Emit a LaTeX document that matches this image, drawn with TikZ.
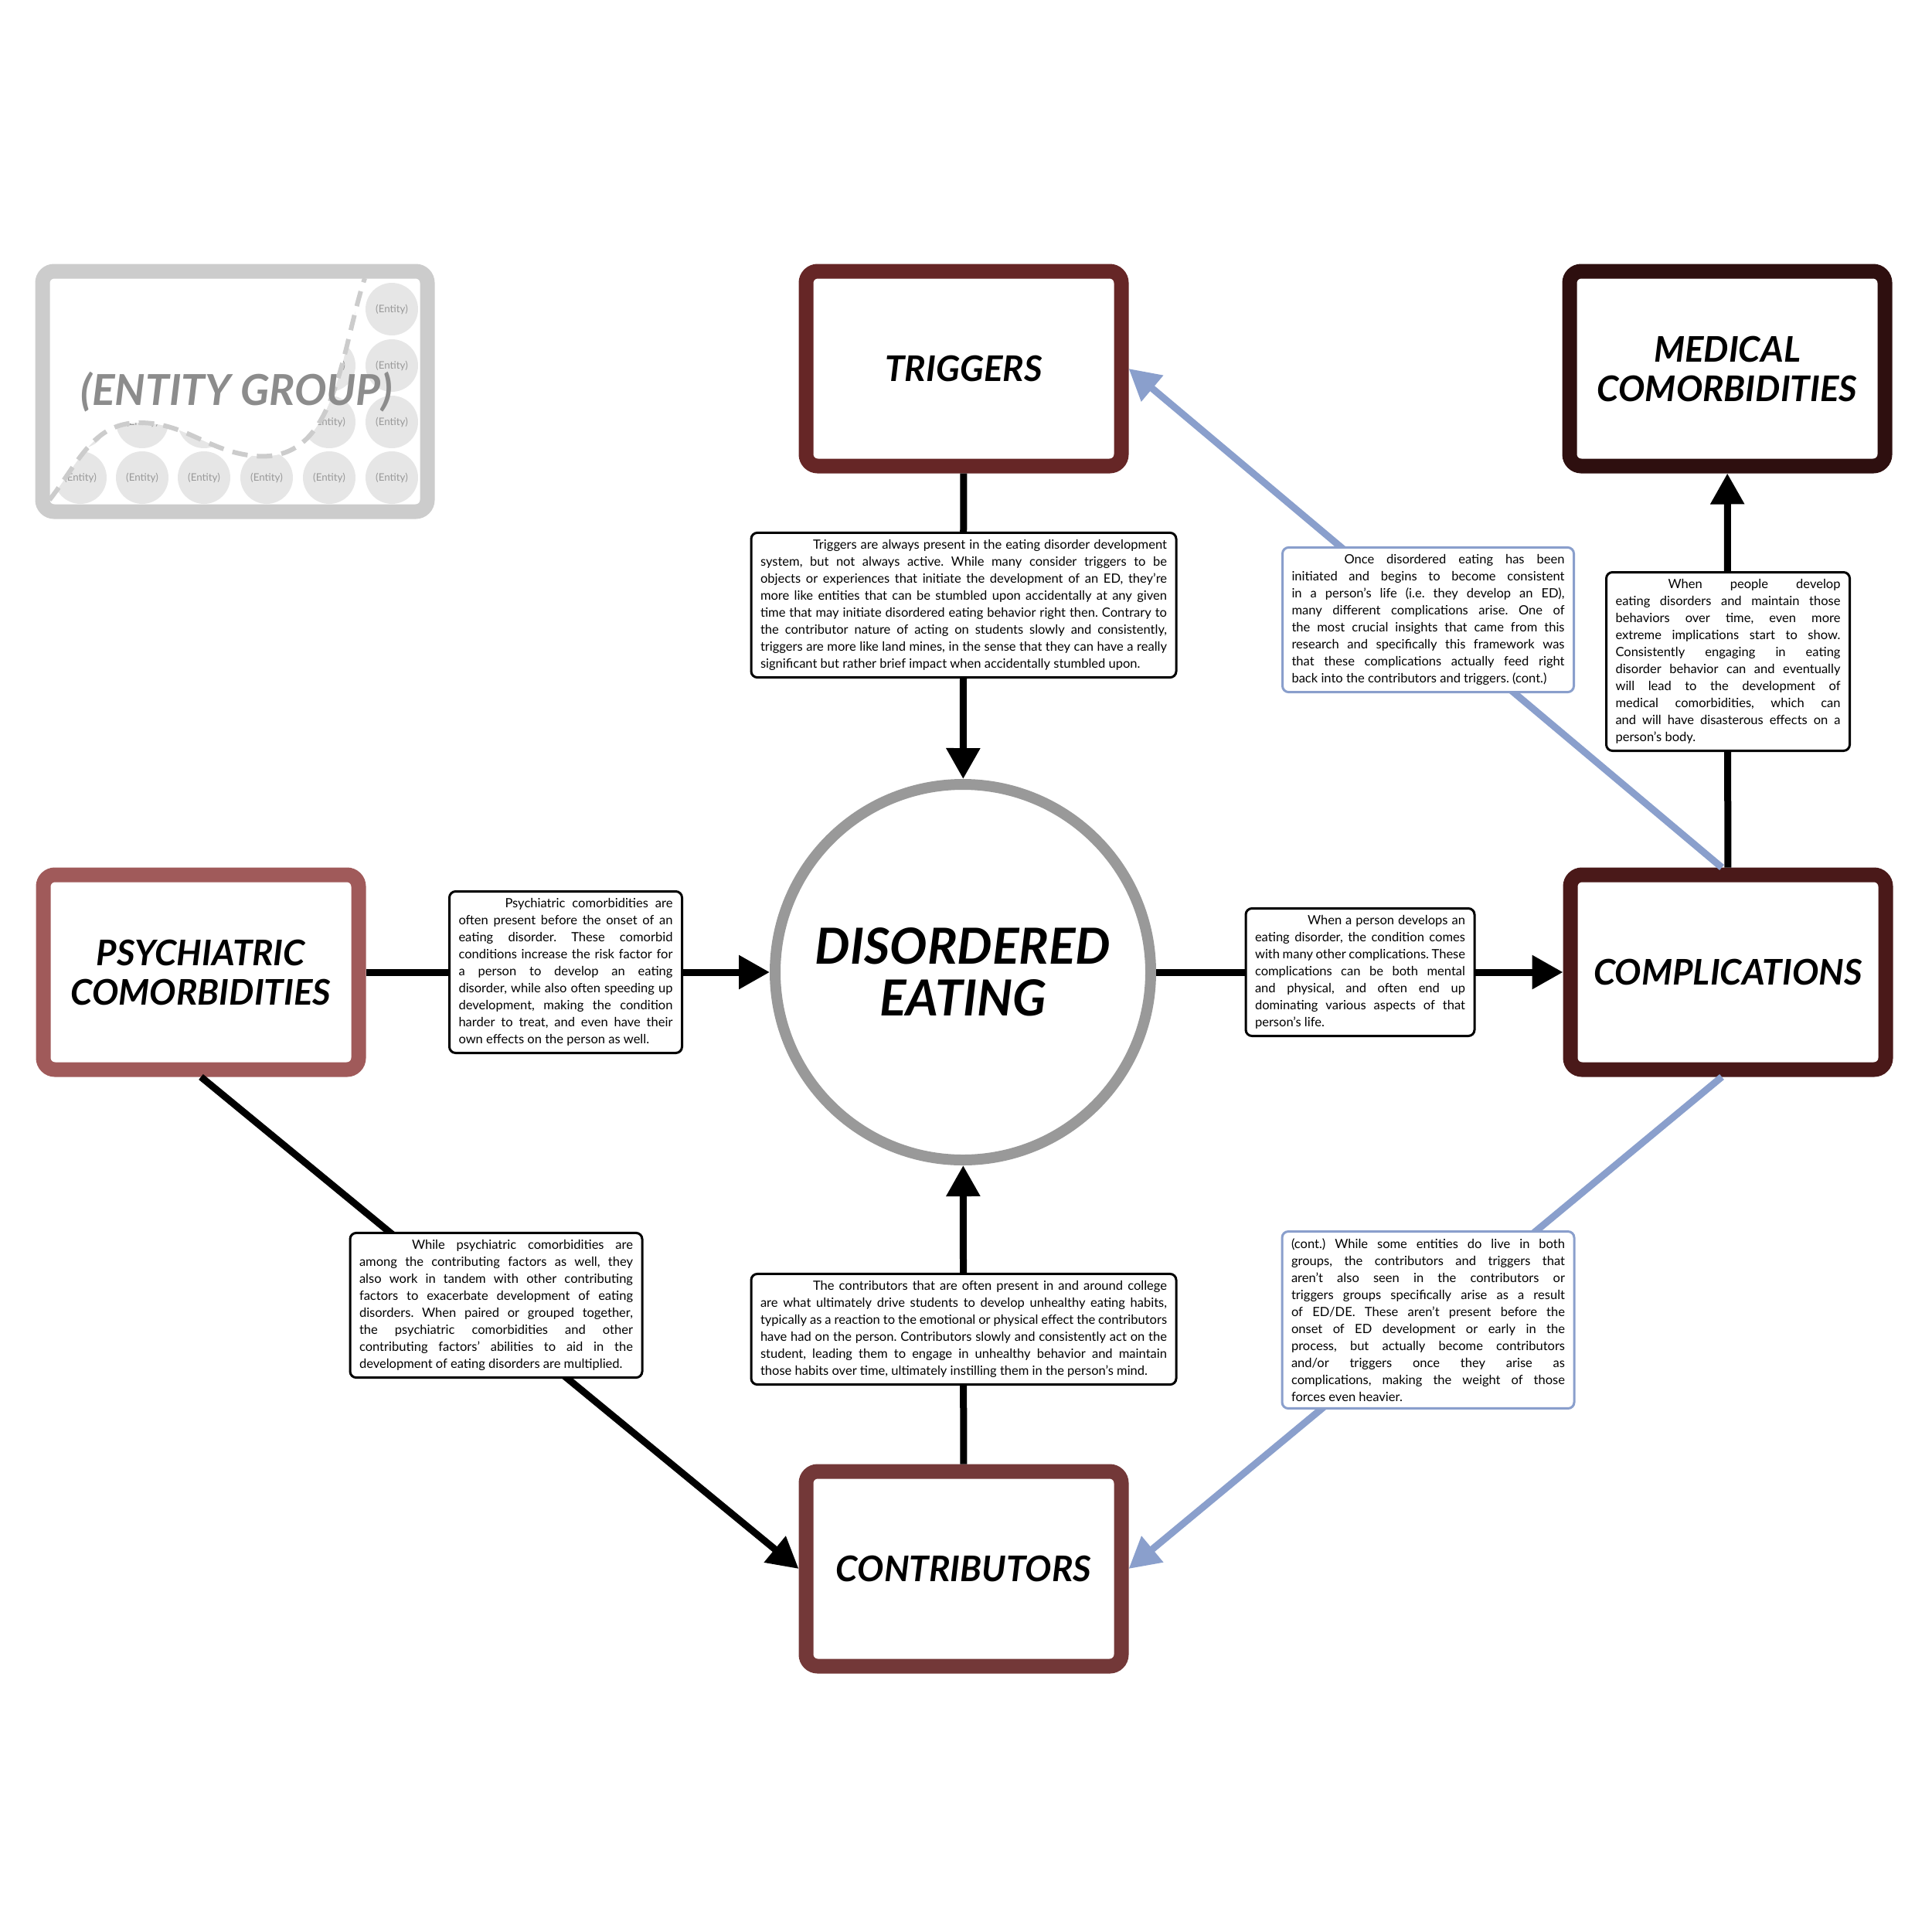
\documentclass[tikz,border=0pt]{standalone}
\usepackage{fontspec}
\setsansfont{Lato}
\usetikzlibrary{arrows.meta,positioning}
\definecolor{trigcol}{HTML}{662626}
\definecolor{medcol}{HTML}{2e0f0f}
\definecolor{psychcol}{HTML}{a05a5a}
\definecolor{compcol}{HTML}{4a1919}
\definecolor{contribcol}{HTML}{733838}
\definecolor{ringcol}{HTML}{999999}
\definecolor{feedcol}{HTML}{8a9fcc}
\definecolor{groupcol}{HTML}{cccccc}
\definecolor{entitycol}{HTML}{e6e6e6}
\newcommand\notefont{\sffamily\fontsize{4.7}{6.26}\selectfont\frenchspacing}

\begin{document}
\begin{tikzpicture}[
  font=\sffamily,
  hbox/.style={draw=#1, line width=0.19cm, rounded corners=0.15cm, fill=white,
    minimum width=4.08cm, minimum height=2.52cm, align=center,
    font=\sffamily\bfseries\itshape\fontsize{13}{14.5}\selectfont},
  note/.style={draw=black, line width=0.03cm, rounded corners=0.08cm, fill=white,
    text width=#1, align=justify, inner xsep=0.12cm, inner ysep=0.09cm, font=\notefont},
  bluenote/.style={note=#1, draw=feedcol},
  link/.style={line width=0.09cm, -{Triangle[length=0.4cm,width=0.42cm]}},
  feedback/.style={link, draw=feedcol},
  entity/.style={circle, fill=entitycol, minimum size=0.68cm, inner sep=0pt,
    text=black!40, font=\sffamily\fontsize{3.8}{4}\selectfont}
]
\useasboundingbox (0,0) rectangle (25,-25);

% legend: entity group
\foreach \x in {1.04,1.84,2.64,3.45,4.26,5.07}
  \foreach \y in {-4.00,-4.73,-5.46,-6.18}
    \node[entity] at (\x,\y) {(Entity)};
\fill[white] (0.64,-6.47) to[out=52,in=180] (1.80,-5.47) to[out=0,in=175] (3.30,-5.90)
  to[out=-5,in=-108] (4.72,-3.60) -- (4.72,-3.40) -- (0.50,-3.40) -- cycle;
\draw[groupcol, line width=0.06cm, dash pattern=on 0.2cm off 0.12cm]
  (0.64,-6.47) to[out=52,in=180] (1.80,-5.47) to[out=0,in=175] (3.30,-5.90)
  to[out=-5,in=-108] (4.72,-3.60);
\draw[groupcol, line width=0.19cm, rounded corners=0.15cm] (0.55,-3.51) rectangle (5.53,-6.62);
\node[text=black!45, font=\sffamily\bfseries\itshape\fontsize{15.7}{17}\selectfont] (grp) at (3.06,-5.07) {(ENTITY GROUP)};

% main boxes
\node[hbox=trigcol] (trig) at (12.47,-4.77) {TRIGGERS};
\node[hbox=medcol] (med) at (22.35,-4.77) {MEDICAL\\COMORBIDITIES};
\node[hbox=psychcol] (psych) at (2.60,-12.58) {PSYCHIATRIC\\COMORBIDITIES};
\node[hbox=compcol] (comp) at (22.36,-12.58) {COMPLICATIONS};
\node[hbox=contribcol] (contrib) at (12.47,-20.30) {CONTRIBUTORS};
\node[circle, draw=ringcol, line width=0.14cm, fill=white, minimum size=4.86cm, align=center,
  font=\sffamily\bfseries\itshape\fontsize{18.3}{19}\selectfont] (de) at (12.46,-12.58) {DISORDERED\\EATING};

% connectors
\draw[link] (trig) -- (de);
\draw[link] (contrib) -- (de);
\draw[link] (psych) -- (de);
\draw[link] (de) -- (comp);
\draw[link] (comp) -- (med);
\draw[link] (psych.south) -- (contrib.west);
\draw[feedback] ([xshift=-0.08cm]comp.north) -- (trig.east);
\draw[feedback] ([xshift=-0.08cm]comp.south) -- (contrib.east);

% notes
\node[note=5.26cm] (trignote) at (12.47,-7.83) {\hspace*{0.68cm}Triggers are always present in the eating disorder development\linebreak
system, but not always active. While many consider triggers to be\linebreak
objects or experiences that initiate the development of an ED, they’re\linebreak
more like entities that can be stumbled upon accidentally at any given\linebreak
time that may initiate disordered eating behavior right then. Contrary to\linebreak
the contributor nature of acting on students slowly and consistently,\linebreak
triggers are more like land mines, in the sense that they can have a really\linebreak
significant but rather brief impact when accidentally stumbled upon.};

\node[bluenote=3.53cm] (oncenote) at (18.48,-8.02) {\hspace*{0.68cm}Once disordered eating has been\linebreak
initiated and begins to become consistent\linebreak
in a person’s life (i.e. they develop an ED),\linebreak
many different complications arise. One of\linebreak
the most crucial insights that came from this\linebreak
research and specifically this framework was\linebreak
that these complications actually feed right\linebreak
back into the contributors and triggers. (cont.)};

\node[note=2.91cm] (mednote) at (22.36,-8.56) {\hspace*{0.68cm}When people develop\linebreak
eating disorders and maintain those\linebreak
behaviors over time, even more\linebreak
extreme implications start to show.\linebreak
Consistently engaging in eating\linebreak
disorder behavior can and eventually\linebreak
will lead to the development of\linebreak
medical comorbidities, which can\linebreak
and will have disasterous effects on a\linebreak
person’s body.};

\node[note=2.77cm] (psychnote) at (7.32,-12.58) {\hspace*{0.6cm}Psychiatric comorbidities are\linebreak
often present before the onset of an\linebreak
eating disorder. These comorbid\linebreak
conditions increase the risk factor for\linebreak
a person to develop an eating\linebreak
disorder, while also often speeding up\linebreak
development, making the condition\linebreak
harder to treat, and even have their\linebreak
own effects on the person as well.};

\node[note=2.72cm] (compnote) at (17.60,-12.58) {\hspace*{0.68cm}When a person develops an\linebreak
eating disorder, the condition comes\linebreak
with many other complications. These\linebreak
complications can be both mental\linebreak
and physical, and often end up\linebreak
dominating various aspects of that\linebreak
person’s life.};

\node[note=3.54cm] (whilenote) at (6.42,-16.89) {\hspace*{0.68cm}While psychiatric comorbidities are\linebreak
among the contributing factors as well, they\linebreak
also work in tandem with other contributing\linebreak
factors to exacerbate development of eating\linebreak
disorders. When paired or grouped together,\linebreak
the psychiatric comorbidities and other\linebreak
contributing factors’ abilities to aid in the\linebreak
development of eating disorders are multiplied.};

\node[note=5.26cm] (contribnote) at (12.47,-17.20) {\hspace*{0.68cm}The contributors that are often present in and around college\linebreak
are what ultimately drive students to develop unhealthy eating habits,\linebreak
typically as a reaction to the emotional or physical effect the contributors\linebreak
have had on the person. Contributors slowly and consistently act on the\linebreak
student, leading them to engage in unhealthy behavior and maintain\linebreak
those habits over time, ultimately instilling them in the person’s mind.};

\node[bluenote=3.54cm] (contnote) at (18.48,-17.08) {(cont.) While some entities do live in both\linebreak
groups, the contributors and triggers that\linebreak
aren’t also seen in the contributors or\linebreak
triggers groups specifically arise as a result\linebreak
of ED/DE. These aren’t present before the\linebreak
onset of ED development or early in the\linebreak
process, but actually become contributors\linebreak
and/or triggers once they arise as\linebreak
complications, making the weight of those\linebreak
forces even heavier.};
\end{tikzpicture}
\end{document}
